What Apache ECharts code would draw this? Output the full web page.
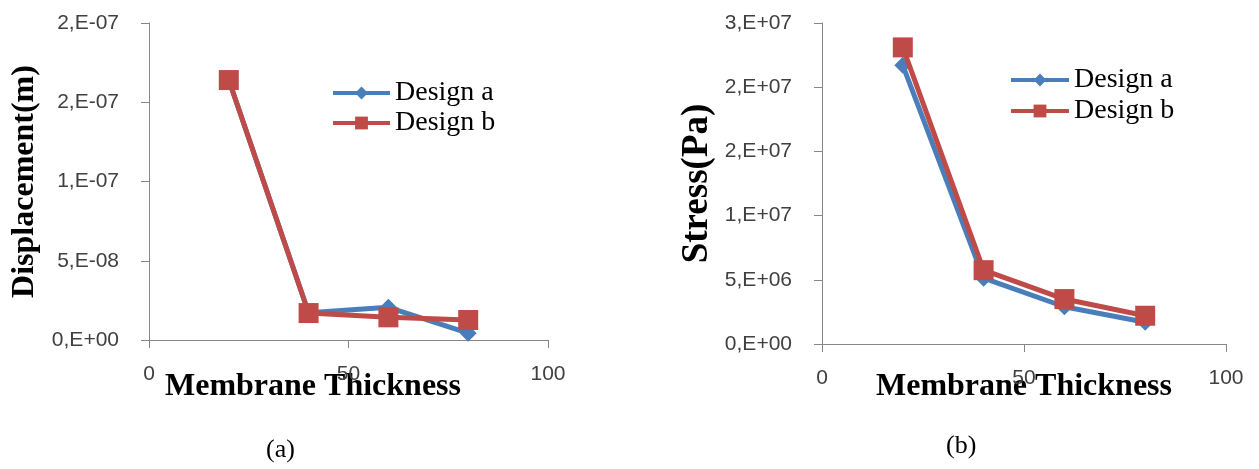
<!DOCTYPE html>
<html>
<head>
<meta charset="utf-8">
<script src="https://cdn.jsdelivr.net/npm/echarts@6/dist/echarts.min.js"></script>
<style>
html,body{margin:0;padding:0;background:#fff;}
#chart{width:1259px;height:469px;}
</style>
</head>
<body>
<div id="chart"></div>
<script>
// ---- data ----
var thickness = [20, 40, 60, 80];
var dispA = [1.64e-7, 1.72e-8, 2.06e-8, 4.3e-9];
var dispB = [1.64e-7, 1.70e-8, 1.43e-8, 1.26e-8];
var stressA = [2.17e7, 5.13e6, 2.9e6, 1.7e6];
var stressB = [2.31e7, 5.75e6, 3.5e6, 2.2e6];
var xTickLabels = ['0', '50', '100'];
var dispTickLabels = ['0,E+00', '5,E-08', '1,E-07', '2,E-07', '2,E-07'];
var stressTickLabels = ['0,E+00', '5,E+06', '1,E+07', '2,E+07', '2,E+07', '3,E+07'];
var seriesNames = ['Design a', 'Design b'];
var xTitle = 'Membrane Thickness';
var dispTitle = 'Displacement(m)';
var stressTitle = 'Stress(Pa)';
var panelLabels = ['(a)', '(b)'];

function pairs(xs, ys) { return xs.map(function (x, i) { return [x, ys[i]]; }); }

var BLUE = '#4A7EBB', RED = '#BE4B48', AXIS = '#868686', LBL = '#404040';
var SANS = 'Liberation Sans', SERIF = 'Liberation Serif';

function xAxisCfg(gi) {
  return {
    type: 'value', gridIndex: gi, min: 0, max: 100, interval: 50,
    axisLine: { show: true, lineStyle: { color: AXIS, width: 1 } },
    axisTick: { show: true, inside: false, length: 8, lineStyle: { color: AXIS } },
    splitLine: { show: false },
    axisLabel: {
      margin: 24, color: LBL, fontFamily: SANS, fontSize: 21,
      formatter: function (v) { return xTickLabels[Math.round(v / 50)]; }
    }
  };
}
function yAxisCfg(gi, max, interval, labels, name, nameSize, gap) {
  return {
    type: 'value', gridIndex: gi, min: 0, max: max, interval: interval,
    axisLine: { show: true, lineStyle: { color: AXIS, width: 1 } },
    axisTick: { show: true, inside: false, length: 8, lineStyle: { color: AXIS } },
    splitLine: { show: false },
    axisLabel: {
      margin: 30, color: LBL, fontFamily: SANS, fontSize: 21,
      formatter: function (v) { return labels[Math.round(v / interval)]; }
    },
    name: name, nameLocation: 'middle', nameRotate: 90, nameGap: gap,
    nameTextStyle: { fontFamily: SERIF, fontWeight: 'bold', fontSize: nameSize, color: '#000' }
  };
}
function seriesCfg(name, data, gi, color, symbol, size) {
  return {
    type: 'line', name: name, xAxisIndex: gi, yAxisIndex: gi, data: data,
    symbol: symbol, symbolSize: size, showSymbol: true,
    lineStyle: { color: color, width: 5 },
    itemStyle: { color: color },
    animation: false, z: name === seriesNames[1] ? 3 : 2
  };
}
function legendCfg(left, top, gap, w) {
  return {
    orient: 'vertical', left: left, top: top, itemGap: gap,
    itemWidth: w, itemHeight: 16,
    data: seriesNames,
    lineStyle: { width: 4 },
    textStyle: { fontFamily: SERIF, fontSize: 28, color: '#000' }
  };
}

var chart = echarts.init(document.getElementById('chart'), null, { renderer: 'canvas' });
chart.setOption({
  backgroundColor: '#fff',
  animation: false,
  grid: [
    { left: 149, top: 23, width: 399, height: 317 },
    { left: 822, top: 23, width: 404, height: 321 }
  ],
  xAxis: [xAxisCfg(0), xAxisCfg(1)],
  yAxis: [
    yAxisCfg(0, 2e-7, 5e-8, dispTickLabels, dispTitle, 32, 108),
    yAxisCfg(1, 2.5e7, 5e6, stressTickLabels, stressTitle, 37, 106)
  ],
  legend: [legendCfg(326, 74, 2, 57), legendCfg(1004, 61, 3, 58)],
  series: [
    seriesCfg(seriesNames[0], pairs(thickness, dispA), 0, BLUE, 'diamond', 17),
    seriesCfg(seriesNames[1], pairs(thickness, dispB), 0, RED, 'rect', 20),
    seriesCfg(seriesNames[0], pairs(thickness, stressA), 1, BLUE, 'diamond', 17),
    seriesCfg(seriesNames[1], pairs(thickness, stressB), 1, RED, 'rect', 20)
  ],
  graphic: [
    { type: 'text', left: 313 - 148, top: 385 - 14, style: { text: xTitle, font: 'bold 32px "Liberation Serif"', fill: '#000' } },
    { type: 'text', left: 1024 - 148, top: 385 - 14, style: { text: xTitle, font: 'bold 32px "Liberation Serif"', fill: '#000' } },
    { type: 'text', left: 283 - 17, top: 452 - 15, style: { text: panelLabels[0], font: '26px "Liberation Serif"', fill: '#000' } },
    { type: 'text', left: 963 - 17, top: 448 - 15, style: { text: panelLabels[1], font: '26px "Liberation Serif"', fill: '#000' } }
  ]
});
</script>
</body>
</html>
